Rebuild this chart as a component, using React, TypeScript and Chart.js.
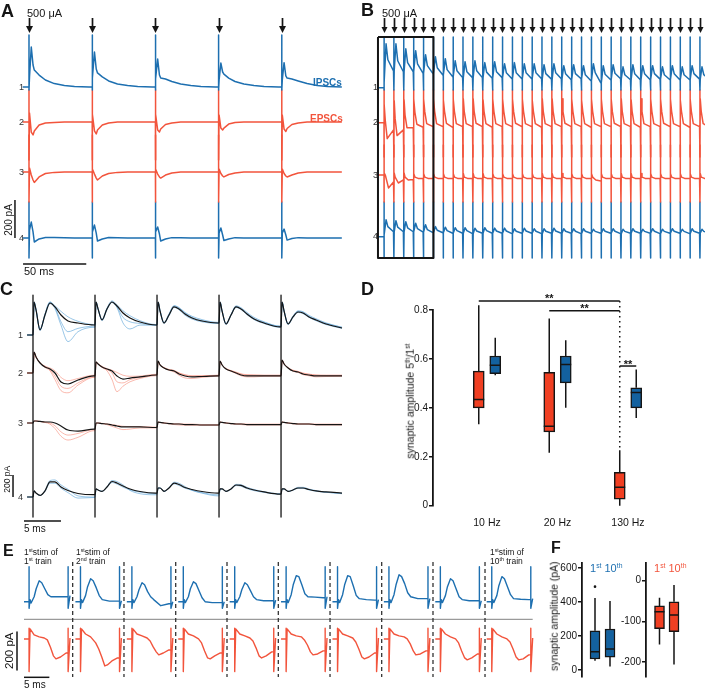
import React, { useEffect, useRef } from 'react';
import { Chart, registerables } from 'chart.js';

Chart.register(...registerables);

const FONT = "'Liberation Sans', Arial, Helvetica, sans-serif";
Chart.defaults.font.family = FONT;

const INK = '#151515';
const BLUE = '#1d6fb0';
const RED = '#f2543c';
const BLUE_SWEEP = 'rgba(85,160,215,0.8)';
const RED_SWEEP = 'rgba(246,130,110,0.75)';
const BOX_RED = '#f03f22';
const BOX_BLUE = '#13619f';

/* ================= A : 20 Hz train (pA, relative to each trace baseline) ================= */
const aStimMs = [0, 50, 100, 150, 200];
const aSampleMs = [0.4, 1.8, 3.2, 4.2, 8, 13, 20, 28, 36, 47.5];
const aIpsc1 = [
  [53, 210, 116, 89, 63, 37, 18, 8, 3, 0],
  [47, 184, 95, 74, 53, 32, 16, 8, 3, 0],
  [42, 147, 63, 47, 42, 29, 16, 8, 3, 0],
  [37, 126, 79, 68, 47, 29, 16, 8, 3, 0],
  [37, 128, 58, 47, 42, 32, 18, 8, 3, 0],
];
const aEpsc2 = [
  [47, -53, -68, -47, -16, -5, -2, 0, 0, 0],
  [42, -47, -63, -42, -16, -5, 0, 0, 0, 0],
  [42, -42, -53, -37, -13, -5, 0, 0, 0, 0],
  [37, -32, -42, -32, -11, -3, 0, 0, 0, 0],
  [37, -37, -50, -34, -13, -5, 0, 0, 0, 0],
];
const aEpsc3 = [
  [21, -16, -42, -55, -26, -8, -2, 0, 0, 0],
  [16, -11, -32, -42, -21, -8, -2, 0, 0, 0],
  [16, -11, -26, -32, -16, -5, 0, 0, 0, 0],
  [16, -8, -21, -26, -13, -5, 0, 0, 0, 0],
  [16, -8, -21, -26, -16, -5, 0, 0, 0, 0],
];
const aIpsc4 = [
  [42, 84, 32, -21, -5, 3, 3, 2, 0, 0],
  [32, 68, 26, -16, -5, 3, 2, 0, 0, 0],
  [32, 58, 21, -16, -5, 2, 2, 0, 0, 0],
  [26, 53, 16, -13, -5, 2, 0, 0, 0, 0],
  [26, 47, 16, -11, -3, 2, 0, 0, 0, 0],
];

/* ================= B : 130 Hz train ================= */
const bStimHz = 130;
const bStimCount = 33;
const bIpscMs = [0.25, 1.6, 3.0, 7.4];
const bEpsc2Ms = [0.25, 1.0, 2.5, 7.4];
const bEpsc3Ms = [0.25, 1.0, 3.5, 7.4];
const bIpsc1Onset = 26;
const bIpsc1Peak = [231, 231, 205, 195, 174, 163, 153, 142, 137, 142, 132, 137, 126, 132, 126, 126, 121, 126, 116, 121, 116, 126, 116, 121, 110, 121, 116, 116, 110, 116, 110, 116, 110];
const bIpsc1Mid = [147, 142, 132, 126, 116, 105, 95, 89, 84, 89, 82, 84, 79, 79, 79, 79, 74, 79, 74, 74, 68, 79, 71, 76, 68, 74, 74, 74, 68, 74, 68, 74, 68];
const bIpsc1End = [89, 84, 84, 76, 74, 67, 58, 53, 53, 53, 50, 53, 47, 47, 47, 47, 45, 47, 42, 47, 37, 26, 42, 47, 42, 42, 42, 45, 42, 42, 42, 45, 42];
const bEpsc2Spike = [100, 116, 121, 126, 126, 126, 121, 126, 126, 126, 121, 126, 126, 126, 126, 121, 126, 126, 126, 126, 121, 126, 126, 126, 126, 121, 126, 126, 126, 126, 121, 126, 126];
const bEpsc2Early = [11, 20, 40, 55, 58, 60, 60, 60, 58, 60, 60, 60, 60, 58, 60, 60, 60, 60, 58, 60, 60, 60, 60, 58, 60, 60, 60, 60, 58, 60, 60, 60, 60];
const bEpsc2Late = [-84, -68, -26, -8, -5, -5, -3, -5, -5, -3, -5, -5, -5, -3, -5, -5, -5, -5, -3, -5, -5, -5, -5, -3, -5, -5, -5, -5, -3, -5, -5, -5, -5];
const bEpsc2End = [-38, -38, -26, -24, -21, -21, -24, -21, -21, -21, -24, -21, -21, -21, -21, -24, -21, -21, -21, -21, -24, -21, -21, -21, -21, -24, -21, -21, -21, -21, -24, -21, -21];
const bEpsc3Spike = [11, 11, 11, 8, 8, 8, 8, 8, 8, 8, 8, 8, 8, 8, 8, 8, 8, 8, 8, 8, 8, 8, 8, 8, 8, 8, 8, 8, 8, 8, 8, 8, 8];
const bEpsc3Early = [0, -11, -11, -11, -11, -11, -11, -11, -11, -11, -11, -11, -11, -11, -11, -11, -11, -11, -11, -11, -11, -11, -11, -11, -11, -11, -11, -11, -11, -11, -11, -11, -11];
const bEpsc3Late = [-68, -42, -26, -18, -18, -18, -18, -18, -18, -18, -18, -18, -18, -18, -18, -18, -18, -18, -18, -18, -18, -26, -18, -18, -18, -18, -18, -18, -18, -18, -18, -18, -18];
const bEpsc3End = [-37, -26, -24, -18, -18, -18, -18, -18, -18, -18, -18, -18, -18, -18, -18, -18, -18, -18, -18, -18, -18, -32, -18, -18, -18, -18, -18, -18, -18, -18, -18, -18, -18];
const bIpsc4Onset = 10;
const bIpsc4Peak = [89, 84, 79, 71, 63, 53, 50, 47, 47, 45, 47, 45, 45, 42, 45, 42, 42, 45, 42, 42, 42, 39, 42, 42, 39, 42, 39, 42, 39, 42, 39, 42, 39];
const bIpsc4Mid = [53, 50, 47, 42, 37, 34, 32, 32, 32, 30, 32, 30, 30, 29, 30, 29, 29, 30, 29, 29, 29, 28, 29, 29, 28, 29, 28, 29, 28, 29, 28, 29, 28];
const bIpsc4End = [26, 26, 26, 24, 21, 21, 18, 18, 16, 18, 18, 18, 16, 18, 18, 16, 18, 18, 18, 16, 18, 18, 18, 16, 18, 18, 18, 16, 18, 18, 16, 18, 18];

/* ================= C : overlaid sweeps, 5 stimuli ================= */
const cStimMs = [0, 8.38, 16.76, 25.14, 33.52];
const cSampleMs = [0.14, 0.41, 0.95, 1.62, 2.3, 2.97, 3.78, 4.73, 6.08, 8.24];
const cIpsc1Mean = [
  [300, 228, 46, 182, 291, 255, 182, 127, 109, 91],
  [300, 237, 137, 237, 300, 264, 200, 155, 118, 91],
  [300, 218, 109, 182, 255, 237, 191, 155, 127, 109],
  [300, 218, 100, 182, 255, 237, 191, 146, 109, 73],
  [300, 218, 100, 164, 209, 200, 164, 137, 100, 64],
];
const cIpsc1Sweeps = [
  [
    [300, 230, 40, 190, 300, 240, 90, -60, 30, 70],
    [300, 240, 140, 240, 300, 250, 110, 55, 90, 90],
    [300, 220, 110, 190, 265, 245, 200, 160, 130, 110],
    [300, 220, 100, 185, 260, 240, 195, 150, 115, 80],
    [300, 220, 100, 170, 215, 205, 170, 140, 105, 70],
  ],
  [
    [300, 225, 50, 175, 285, 250, 120, 30, 60, 80],
    [300, 235, 130, 230, 295, 255, 160, 120, 105, 90],
    [300, 215, 105, 175, 250, 230, 180, 145, 120, 105],
    [300, 215, 95, 178, 250, 232, 185, 140, 105, 70],
    [300, 215, 95, 160, 205, 195, 160, 130, 95, 60],
  ],
  [
    [300, 232, 50, 190, 300, 265, 215, 165, 125, 95],
    [300, 240, 140, 245, 310, 275, 220, 175, 130, 95],
    [300, 222, 115, 190, 265, 250, 205, 170, 140, 115],
    [300, 222, 105, 188, 265, 248, 205, 160, 120, 80],
    [300, 222, 105, 172, 220, 212, 178, 148, 110, 70],
  ],
];
const cEpsc2Mean = [
  [191, 146, 91, 55, 36, 0, -82, -100, -64, -27],
  [100, 82, 55, 36, 18, -27, -55, -46, -36, -18],
  [109, 73, 46, 27, 18, -9, -27, -36, -32, -27],
  [109, 73, 36, 18, 0, -18, -27, -27, -27, -27],
  [118, 82, 46, 18, 9, -9, -18, -27, -27, -27],
];
const cEpsc2Sweeps = [
  [
    [191, 146, 91, 50, 20, -60, -160, -180, -110, -40],
    [100, 82, 50, 20, -60, -170, -120, -80, -50, -25],
    [109, 73, 46, 25, 10, -20, -45, -50, -40, -30],
    [109, 73, 36, 15, -5, -25, -35, -35, -30, -30],
    [118, 82, 46, 15, 5, -15, -25, -35, -32, -30],
  ],
  [
    [191, 146, 91, 60, 30, -30, -120, -140, -90, -35],
    [100, 82, 55, 30, 0, -80, -90, -60, -40, -20],
    [109, 73, 46, 30, 20, 0, -20, -30, -28, -22],
    [109, 73, 40, 20, 5, -10, -20, -20, -22, -22],
    [118, 82, 46, 22, 12, -5, -12, -20, -22, -22],
  ],
  [
    [191, 146, 95, 62, 45, 20, -40, -70, -50, -20],
    [100, 85, 60, 40, 25, 5, -20, -30, -28, -12],
    [109, 75, 50, 32, 24, 0, -15, -25, -25, -20],
    [109, 75, 40, 22, 8, -8, -15, -18, -20, -20],
    [118, 84, 50, 25, 15, 0, -10, -18, -20, -20],
  ],
];
const cEpsc3Mean = [
  [18, 18, 14, 9, 9, 0, -27, -64, -73, -55],
  [0, 0, -5, -9, -18, -27, -36, -36, -36, -41],
  [9, 5, 0, -5, -9, -9, -14, -14, -18, -18],
  [9, 5, 0, -5, -9, -9, -14, -14, -14, -14],
  [9, 5, 0, -5, -9, -9, -9, -14, -14, -14],
];
const cEpsc3Sweeps = [
  [
    [18, 18, 14, 5, -10, -50, -120, -155, -130, -70],
    [0, 0, -5, -15, -30, -45, -60, -55, -45, -45],
    [9, 5, -2, -8, -14, -18, -20, -20, -22, -22],
    [9, 5, -2, -8, -12, -14, -18, -18, -18, -18],
    [9, 5, -2, -8, -12, -12, -12, -18, -18, -18],
  ],
  [
    [18, 18, 14, 8, 0, -25, -80, -110, -95, -60],
    [0, 0, -3, -8, -14, -22, -30, -32, -32, -38],
    [9, 5, 2, -3, -6, -6, -10, -10, -14, -14],
    [9, 5, 2, -3, -6, -6, -10, -10, -10, -10],
    [9, 5, 2, -3, -6, -6, -6, -10, -10, -10],
  ],
];
const cIpsc4Mean = [
  [55, 36, 14, 55, 137, 137, 91, 59, 32, 21],
  [73, 64, 51, 91, 141, 127, 100, 73, 50, 36],
  [82, 82, 51, 82, 127, 114, 86, 68, 50, 36],
  [73, 73, 51, 73, 109, 105, 82, 64, 46, 27],
  [73, 73, 51, 64, 82, 82, 68, 55, 46, 36],
];
const cIpsc4Sweeps = [
  [
    [55, 36, 14, 60, 150, 155, 110, 70, 10, 0],
    [73, 64, 51, 95, 150, 140, 110, 60, 30, 20],
    [82, 82, 51, 85, 135, 125, 95, 60, 35, 10],
    [73, 73, 51, 76, 115, 112, 88, 68, 48, 30],
    [73, 73, 51, 66, 88, 88, 72, 58, 44, 30],
  ],
  [
    [55, 36, 14, 50, 125, 125, 80, 40, -10, -5],
    [73, 64, 51, 88, 132, 118, 90, 65, 45, 30],
    [82, 82, 51, 80, 120, 105, 80, 62, 40, 20],
    [73, 73, 51, 70, 104, 98, 76, 58, 42, 25],
    [73, 73, 51, 62, 78, 78, 64, 52, 42, 34],
  ],
];

/* ================= D : 5th/1st amplitude ratio ================= */
const dFreqLabels = ['10 Hz', '20 Hz', '130 Hz'];
// [min, Q1, median, Q3, max]
const dEpscRatio = [
  [0.333, 0.4, 0.434, 0.55, 0.819],
  [0.216, 0.302, 0.325, 0.545, 0.765],
  [0.0, 0.027, 0.075, 0.136, 0.227],
];
const dIpscRatio = [
  [0.533, 0.54, 0.574, 0.612, 0.687],
  [0.4, 0.502, 0.577, 0.612, 0.676],
  [0.359, 0.4, 0.463, 0.482, 0.557],
];
const dSigLevels = [0.837, 0.797, 0.571];
const dSigLabel = '**';

/* ================= E : first stimulus of 10 trains ================= */
const eSweepStartMs = [0, 10.14, 20.28, 30.42, 40.56, 50.7, 60.84, 70.98, 81.12, 91.26];
const eDividerMs = [9.6, 19.72, 29.92, 40.04, 50.16, 60.36, 70.55, 80.67, 90.93];
const eStimMs = [1.0, 8.7];
const eIpscMs = [0, 1.2, 1.4, 2.0, 2.4, 3.0, 3.5, 4.1, 4.7, 5.3, 6.7, 8.3, 9.07];
const eIpscSweeps = [
  [0, 11, -7, 26, 68, 110, 100, 68, 37, 26, 26, 26, 32],
  [0, 11, -5, 32, 79, 121, 110, 74, 32, 11, 3, 3, 5],
  [0, 11, -5, 26, 63, 100, 89, 53, 26, 11, -21, -11, 0],
  [0, 11, -5, 26, 68, 105, 95, 58, 21, 0, -5, -5, 0],
  [0, 11, -5, 26, 63, 100, 89, 58, 26, 11, 5, 5, 8],
  [0, 11, -5, 37, 89, 137, 132, 89, 42, 26, 24, 21, 26],
  [0, 11, -5, 37, 89, 137, 132, 84, 32, 16, 11, 8, 11],
  [0, 11, -5, 37, 89, 142, 132, 95, 47, 26, 16, 16, 16],
  [0, 11, -5, 32, 79, 121, 110, 68, 26, 11, 5, 5, 5],
  [0, 11, -5, 32, 84, 132, 121, 79, 37, 16, 13, 11, 16],
];
const eEpscMs = [0, 1.2, 2.0, 3.0, 4.0, 4.6, 5.2, 5.8, 6.3, 7.2, 8.3, 9.07];
const eEpscSweeps = [
  [0, 53, 21, 11, 5, -5, -42, -89, -105, -95, -74, 5],
  [0, 53, 26, 11, -21, -53, -95, -142, -137, -116, -100, 5],
  [0, 53, 26, 16, 5, -11, -42, -68, -84, -74, -58, 5],
  [0, 53, 26, 16, 0, -21, -63, -100, -105, -89, -74, 5],
  [0, 53, 26, 16, 5, -11, -47, -89, -100, -89, -68, 5],
  [0, 53, 26, 16, 11, -5, -32, -68, -84, -79, -63, 5],
  [0, 53, 26, 16, 5, -16, -53, -95, -105, -95, -74, 5],
  [0, 53, 26, 16, 11, 0, -26, -63, -84, -79, -63, 5],
  [0, 53, 26, 11, 0, -21, -63, -100, -110, -100, -79, 5],
  [0, 53, 26, 11, 0, -16, -53, -95, -110, -105, -84, 5],
];

/* ================= F : synaptic amplitude, 1st vs 10th train ================= */
const fIpscAmp = [
  [55, 65, 108, 231, 424],
  [20, 76, 123, 241, 405],
];
const fIpscOutliers = [[490], []];
const fEpscAmp = [
  [-157, -118, -76, -62, -42],
  [-206, -125, -84, -52, -10.5],
];

/* ================= layout (scale offsets, not data) ================= */
const A_BASE = [794.7, 610.5, 347.4, 0];
const A_ART = [[273.7, -15.8], [168.4, -200], [194.7, -157.9], [189.5, -105.3]];
const B_BASE = [784.2, 600, 324.7, 0];
const B_ART = [[266.8, -12.2], [172, -180.5], [157.9, -142.1], [182.6, -112.1]];
const C_BASE = [1472.7, 1127.3, 672.7, 0];
const E_BASE = [0, -196];
const DX_OFF = 0.117;

/* ================= helpers ================= */
type P = { x: number; y: number | null };

function buildTrace(base: number, stims: number[], offsets: number[], segs: number[][], art: number[] | null, lead: number): P[] {
  const pts: P[] = [{ x: stims[0] - lead, y: base }];
  let last = 0;
  stims.forEach((s, i) => {
    pts.push({ x: s, y: base + last });
    if (art) pts.push({ x: s, y: base + art[0] }, { x: s, y: base + art[1] });
    offsets.forEach((o, j) => {
      last = segs[i][j];
      pts.push({ x: s + o, y: base + last });
    });
  });
  return pts;
}

function buildSweeps(base: number, starts: number[], offsets: number[], segs: number[][], stims: number[], art: number[]): P[] {
  const pts: P[] = [];
  starts.forEach((t0, k) => {
    if (k > 0) pts.push({ x: t0 - 0.05, y: null });
    let si = 0;
    let last = 0;
    offsets.forEach((o, j) => {
      while (si < stims.length && stims[si] < o) {
        const ts = t0 + stims[si];
        pts.push({ x: ts, y: base + last }, { x: ts, y: base + art[0] }, { x: ts, y: base + art[1] });
        si++;
      }
      last = segs[k][j];
      pts.push({ x: t0 + o, y: base + last });
    });
  });
  return pts;
}

function vLines(xs: number[], y1: number, y2: number): P[] {
  const pts: P[] = [];
  xs.forEach((x) => pts.push({ x, y: y1 }, { x, y: y2 }, { x, y: null }));
  return pts;
}

const line = (data: P[], color: string, width: number, extra: any = {}) => ({
  data, borderColor: color, borderWidth: width, pointRadius: 0, fill: false, spanGaps: false, tension: 0, ...extra,
});
const smooth = { cubicInterpolationMode: 'monotone' };

function traceOptions(xr: number[], yr: number[]) {
  return {
    responsive: false, animation: false, devicePixelRatio: 1, events: [],
    layout: { padding: 0 },
    plugins: { legend: { display: false }, tooltip: { enabled: false } },
    scales: {
      x: { type: 'linear', display: false, min: xr[0], max: xr[1] },
      y: { type: 'linear', display: false, min: yr[0], max: yr[1] },
    },
    elements: { point: { radius: 0 }, line: { tension: 0, borderJoinStyle: 'round' } },
  };
}

function arrowPlugin(times: number[], yTop: number, yTip: number, head: number) {
  return {
    id: 'stimArrows',
    afterDraw(chart: any) {
      const ctx = chart.ctx;
      const xs = chart.scales.x;
      ctx.save();
      ctx.fillStyle = INK;
      ctx.strokeStyle = INK;
      ctx.lineWidth = 1.7;
      times.forEach((t) => {
        const px = Math.round(xs.getPixelForValue(t)) + 0.5;
        ctx.beginPath();
        ctx.moveTo(px, yTop);
        ctx.lineTo(px, yTip - head + 1);
        ctx.stroke();
        ctx.beginPath();
        ctx.moveTo(px - head / 2, yTip - head);
        ctx.lineTo(px + head / 2, yTip - head);
        ctx.lineTo(px, yTip);
        ctx.closePath();
        ctx.fill();
      });
      ctx.restore();
    },
  };
}

function whiskerPlugin(sets: any[]) {
  return {
    id: 'whiskers',
    afterDatasetsDraw(chart: any) {
      const ctx = chart.ctx;
      const y = chart.scales.y;
      ctx.save();
      ctx.strokeStyle = INK;
      ctx.fillStyle = INK;
      ctx.lineWidth = 1.5;
      sets.forEach(({ ds, stats, outliers }) => {
        chart.getDatasetMeta(ds).data.forEach((bar: any, i: number) => {
          const s = stats[i];
          const cx = bar.x;
          const hw = bar.width / 2;
          ctx.beginPath();
          ctx.moveTo(cx, y.getPixelForValue(s[0]));
          ctx.lineTo(cx, y.getPixelForValue(s[1]));
          ctx.moveTo(cx, y.getPixelForValue(s[3]));
          ctx.lineTo(cx, y.getPixelForValue(s[4]));
          ctx.moveTo(cx - hw, y.getPixelForValue(s[2]));
          ctx.lineTo(cx + hw, y.getPixelForValue(s[2]));
          ctx.stroke();
          ((outliers && outliers[i]) || []).forEach((v: number) => {
            ctx.beginPath();
            ctx.arc(cx, y.getPixelForValue(v), 1.3, 0, Math.PI * 2);
            ctx.fill();
          });
        });
      });
      ctx.restore();
    },
  };
}

function sigPlugin(brackets: any[], dotted: any) {
  return {
    id: 'significance',
    afterDatasetsDraw(chart: any) {
      const { ctx } = chart;
      const x = chart.scales.x;
      const y = chart.scales.y;
      ctx.save();
      ctx.strokeStyle = INK;
      ctx.fillStyle = INK;
      ctx.lineWidth = 1.5;
      brackets.forEach((b) => {
        const x1 = x.getPixelForValue(b.x1);
        const x2 = x.getPixelForValue(b.x2);
        const py = y.getPixelForValue(b.y);
        ctx.beginPath();
        ctx.moveTo(x1, py);
        ctx.lineTo(x2, py);
        ctx.stroke();
        ctx.font = `bold 11px ${FONT}`;
        ctx.textAlign = 'center';
        ctx.textBaseline = 'alphabetic';
        ctx.fillText(b.label, (x1 + x2) / 2, py + 1.5);
      });
      const dx = x.getPixelForValue(dotted.x);
      ctx.setLineDash([1.5, 3.5]);
      ctx.beginPath();
      ctx.moveTo(dx, y.getPixelForValue(dotted.y1));
      ctx.lineTo(dx, y.getPixelForValue(dotted.y2));
      ctx.stroke();
      ctx.restore();
    },
  };
}

const boxDataset = (stats: number[][], xf: (i: number) => number, color: string, thickness: number) => ({
  data: stats.map((s, i) => ({ x: xf(i), y: [s[1], s[3]] })),
  backgroundColor: color,
  borderColor: INK,
  borderWidth: 1.5,
  borderSkipped: false,
  barThickness: thickness,
  grouped: false,
  clip: false,
});

function yAxis(min: number, max: number, step: number, width: number, size: number) {
  return {
    type: 'linear', min, max,
    ticks: { stepSize: step, padding: 1, color: INK, font: { size }, includeBounds: false },
    grid: { drawOnChartArea: false, tickLength: 4, color: INK, lineWidth: 1.5 },
    border: { color: INK, width: 1.8 },
    afterFit: (s: any) => { s.width = width; s.paddingTop = 0; s.paddingBottom = 0; },
  };
}

const boxOptions = (padding: any, x: any, y: any) => ({
  responsive: false, animation: false, devicePixelRatio: 1, events: [],
  layout: { padding },
  plugins: { legend: { display: false }, tooltip: { enabled: false } },
  scales: { x, y },
});

/* ================= chart factories ================= */
function makeA() {
  const traces = [aIpsc1, aEpsc2, aEpsc3, aIpsc4];
  const colors = [BLUE, RED, RED, BLUE];
  const datasets: any[] = traces.map((segs, k) => line(buildTrace(A_BASE[k], aStimMs, aSampleMs, segs, A_ART[k], 5), colors[k], 1.5));
  datasets.push(line([{ x: -11.1, y: 0 }, { x: -11.1, y: 200 }], INK, 1.5));
  datasets.push(line([{ x: -4.7, y: -136.8 }, { x: 45.3, y: -136.8 }], INK, 1.5));
  return { type: 'line', data: { datasets }, options: traceOptions([-22.94, 253.96], [-221, 1252.6]), plugins: [arrowPlugin(aStimMs, 18, 33, 7)] };
}

function makeB() {
  const period = 1000 / bStimHz;
  const stims = Array.from({ length: bStimCount }, (_, i) => i * period);
  const t1 = stims.map((_, i) => [i === 0 ? bIpsc1Onset : bIpsc1End[i - 1], bIpsc1Peak[i], bIpsc1Mid[i], bIpsc1End[i]]);
  const t2 = stims.map((_, i) => [bEpsc2Spike[i], bEpsc2Early[i], bEpsc2Late[i], bEpsc2End[i]]);
  const t3 = stims.map((_, i) => [bEpsc3Spike[i], bEpsc3Early[i], bEpsc3Late[i], bEpsc3End[i]]);
  const t4 = stims.map((_, i) => [i === 0 ? bIpsc4Onset : bIpsc4End[i - 1], bIpsc4Peak[i], bIpsc4Mid[i], bIpsc4End[i]]);
  const datasets: any[] = [
    line([{ x: -4.7, y: 1051 }, { x: 38.5, y: 1051 }, { x: 38.5, y: -112 }, { x: -4.7, y: -112 }, { x: -4.7, y: 1051 }], INK, 2),
    line(buildTrace(B_BASE[0], stims, bIpscMs, t1, B_ART[0], 5), BLUE, 1.5),
    line(buildTrace(B_BASE[1], stims, bEpsc2Ms, t2, B_ART[1], 5), RED, 1.5),
    line(buildTrace(B_BASE[2], stims, bEpsc3Ms, t3, B_ART[2], 5), RED, 1.5),
    line(buildTrace(B_BASE[3], stims, bIpscMs, t4, B_ART[3], 5), BLUE, 1.5),
  ];
  return { type: 'line', data: { datasets }, options: traceOptions([-22.6, 250.1], [-227.9, 1245.8]), plugins: [arrowPlugin(stims, 18, 33, 6)] };
}

function makeC() {
  const means = [cIpsc1Mean, cEpsc2Mean, cEpsc3Mean, cIpsc4Mean];
  const sweeps = [cIpsc1Sweeps, cEpsc2Sweeps, cEpsc3Sweeps, cIpsc4Sweeps];
  const sweepColors = [BLUE_SWEEP, RED_SWEEP, RED_SWEEP, BLUE_SWEEP];
  const datasets: any[] = [
    line(vLines(cStimMs, 1836, -182), INK, 1.3),
    line([{ x: -2.7, y: 0 }, { x: -2.7, y: 200 }], INK, 1.5),
    line([{ x: -1.22, y: -218 }, { x: 3.78, y: -218 }], INK, 1.5),
  ];
  means.forEach((m, k) => datasets.push(line(buildTrace(C_BASE[k], cStimMs, cSampleMs, m, null, 0.8), INK, 1.2, smooth)));
  sweeps.forEach((set, k) => set.forEach((sw) => datasets.push(line(buildTrace(C_BASE[k], cStimMs, cSampleMs, sw, null, 0.8), sweepColors[k], 0.75, smooth))));
  return { type: 'line', data: { datasets }, options: traceOptions([-4.459, 42.84], [-390.9, 1972.7]) };
}

function makeD() {
  const eX = (i: number) => i - DX_OFF;
  const iX = (i: number) => i + DX_OFF;
  const brackets = [
    { x1: eX(0), x2: eX(2), y: dSigLevels[0], label: dSigLabel },
    { x1: eX(1), x2: eX(2), y: dSigLevels[1], label: dSigLabel },
    { x1: eX(2), x2: iX(2), y: dSigLevels[2], label: dSigLabel },
  ];
  const dotted = { x: eX(2), y1: dSigLevels[0], y2: dEpscRatio[2][4] };
  return {
    type: 'bar',
    data: { datasets: [boxDataset(dEpscRatio, eX, BOX_RED, 11), boxDataset(dIpscRatio, iX, BOX_BLUE, 11)] },
    options: boxOptions(
      { top: 30, right: 40, bottom: 0, left: 0 },
      {
        type: 'linear', min: -0.766, max: 2.525, offset: false,
        grid: { display: false, drawTicks: false, offset: false },
        border: { display: false },
        ticks: { padding: 11, color: INK, font: { size: 10.5 }, autoSkip: false, maxRotation: 0, callback: (v: number) => dFreqLabels[v] ?? '' },
        afterBuildTicks: (s: any) => { s.ticks = dFreqLabels.map((_, i) => ({ value: i })); },
        afterFit: (s: any) => { s.height = 34.3; s.paddingLeft = 0; s.paddingRight = 0; },
      },
      yAxis(0, 0.8, 0.2, 78, 10),
    ),
    plugins: [whiskerPlugin([{ ds: 0, stats: dEpscRatio }, { ds: 1, stats: dIpscRatio }]), sigPlugin(brackets, dotted)],
  };
}

function makeE() {
  const datasets: any[] = [
    line(vLines(eDividerMs, 209, -396), '#333', 1.3, { borderDash: [4, 3] }),
    line([{ x: 0, y: -93 }, { x: 100.33, y: -93 }], '#9a9a9a', 1.2),
    line(buildSweeps(E_BASE[0], eSweepStartMs, eIpscMs, eIpscSweeps, eStimMs, [184, -35]), BLUE, 1.4),
    line(buildSweeps(E_BASE[1], eSweepStartMs, eEpscMs, eEpscSweeps, eStimMs, [56, -172]), RED, 1.4),
    line([{ x: -1.38, y: -159.5 }, { x: -1.38, y: -359.5 }], INK, 1.5),
    line([{ x: 0, y: -398 }, { x: 5, y: -398 }], INK, 1.5),
  ];
  return { type: 'line', data: { datasets }, options: traceOptions([-4.734, 105.72], [-459.5, 324.7]) };
}

function makeFL() {
  return {
    type: 'bar',
    data: { datasets: [boxDataset(fIpscAmp, (i) => i + 1, BOX_BLUE, 10)] },
    options: boxOptions(
      { top: 8, right: 16, bottom: 12, left: 0 },
      { type: 'linear', display: false, min: 0.133, max: 2.667, offset: false },
      yAxis(-41, 629, 200, 26, 10),
    ),
    plugins: [whiskerPlugin([{ ds: 0, stats: fIpscAmp, outliers: fIpscOutliers }])],
  };
}

function makeFR() {
  return {
    type: 'bar',
    data: { datasets: [boxDataset(fEpscAmp, (i) => i + 1, BOX_RED, 10)] },
    options: boxOptions(
      { top: 13, right: 10, bottom: 12, left: 0 },
      { type: 'linear', display: false, min: 0.069, max: 3.448, offset: false },
      yAxis(-236.6, 43.5, 100, 26, 10),
    ),
    plugins: [whiskerPlugin([{ ds: 0, stats: fEpscAmp }])],
  };
}

/* ================= components ================= */
function ChartCanvas({ left, top, width, height, make }: any) {
  const ref = useRef<HTMLCanvasElement>(null);
  useEffect(() => {
    const chart = new Chart(ref.current as HTMLCanvasElement, make());
    return () => chart.destroy();
  }, [make]);
  return <canvas ref={ref} width={width} height={height} style={{ position: 'absolute', left, top, width, height, display: 'block' }} />;
}

const Sup = ({ children }: any) => (
  <sup style={{ fontSize: '0.62em', verticalAlign: '0.55em', lineHeight: 0 }}>{children}</sup>
);

const Txt = ({ x, y, size, bold, color, children }: any) => (
  <div style={{ position: 'absolute', left: x, top: y, fontSize: size, lineHeight: 1, fontFamily: FONT, fontWeight: bold ? 700 : 400, color: color || INK, whiteSpace: 'nowrap' }}>{children}</div>
);

const VTxt = ({ cx, cy, size, children }: any) => (
  <div style={{ position: 'absolute', left: cx - 100, top: cy - size / 2, width: 200, height: size, lineHeight: `${size}px`, fontSize: size, textAlign: 'center', transform: 'rotate(-90deg)', fontFamily: FONT, color: INK, whiteSpace: 'nowrap' }}>{children}</div>
);

const TwoLine = ({ x, y, first, second }: any) => (
  <div style={{ position: 'absolute', left: x, top: y, fontSize: 8.5, lineHeight: '9px', fontFamily: FONT, color: INK, whiteSpace: 'nowrap' }}>
    <div>{first}</div>
    <div>{second}</div>
  </div>
);

export default function App() {
  const labelsA = [87, 122, 172, 238];
  const labelsB = [87.7, 122.7, 175, 236.7];
  const labelsC = [335, 373, 423, 497];
  return (
    <div style={{ position: 'absolute', left: 0, top: 0, width: 705, height: 689, background: '#fff', overflow: 'hidden', fontFamily: FONT }}>
      <ChartCanvas left={0} top={0} width={350} height={280} make={makeA} />
      <ChartCanvas left={355} top={0} width={350} height={280} make={makeB} />
      <ChartCanvas left={0} top={280} width={350} height={260} make={makeC} />
      <ChartCanvas left={355} top={280} width={350} height={260} make={makeD} />
      <ChartCanvas left={0} top={540} width={560} height={149} make={makeE} />
      <ChartCanvas left={556} top={555} width={80} height={134} make={makeFL} />
      <ChartCanvas left={620} top={550} width={85} height={139} make={makeFR} />

      <Txt x={1} y={1.5} size={18} bold>A</Txt>
      <Txt x={361} y={1} size={18} bold>B</Txt>
      <Txt x={0} y={280} size={18} bold>C</Txt>
      <Txt x={361} y={279.5} size={18} bold>D</Txt>
      <Txt x={3} y={543} size={16} bold>E</Txt>
      <Txt x={551} y={540} size={16} bold>F</Txt>

      <Txt x={27} y={8} size={11}>500 μA</Txt>
      <Txt x={382} y={8} size={11}>500 μA</Txt>
      <Txt x={313} y={77.5} size={10} bold color={BLUE}>IPSCs</Txt>
      <Txt x={310} y={113.5} size={10} bold color={RED}>EPSCs</Txt>

      {labelsA.map((cy, i) => <Txt key={'a' + i} x={19} y={cy - 4.4} size={9} color="#333">{i + 1}</Txt>)}
      {labelsB.map((cy, i) => <Txt key={'b' + i} x={373} y={cy - 4.4} size={9} color="#333">{i + 1}</Txt>)}
      {labelsC.map((cy, i) => <Txt key={'c' + i} x={18} y={cy - 4.4} size={9} color="#333">{i + 1}</Txt>)}

      <VTxt cx={8.5} cy={220} size={10}>200 pA</VTxt>
      <Txt x={24} y={266} size={11}>50 ms</Txt>
      <VTxt cx={7} cy={479} size={8.5}>200 pA</VTxt>
      <Txt x={24} y={524} size={10}>5 ms</Txt>

      <VTxt cx={410} cy={401} size={10.5}>synaptic amplitude 5<Sup>th</Sup>/1<Sup>st</Sup></VTxt>

      <TwoLine x={24} y={547.5} first={<>1<Sup>st</Sup>stim of</>} second={<>1<Sup>st</Sup> train</>} />
      <TwoLine x={76} y={547.5} first={<>1<Sup>st</Sup>stim of</>} second={<>2<Sup>nd</Sup> train</>} />
      <TwoLine x={490} y={547.5} first={<>1<Sup>st</Sup>stim of</>} second={<>10<Sup>th</Sup> train</>} />
      <VTxt cx={10} cy={651} size={11.5}>200 pA</VTxt>
      <Txt x={24} y={680} size={10}>5 ms</Txt>

      <VTxt cx={554} cy={616} size={10.5}>synaptic amplitude (pA)</VTxt>
      <Txt x={590} y={563} size={11} color={BLUE}>1<Sup>st</Sup> 10<Sup>th</Sup></Txt>
      <Txt x={654} y={563} size={11} color={RED}>1<Sup>st</Sup> 10<Sup>th</Sup></Txt>
    </div>
  );
}
